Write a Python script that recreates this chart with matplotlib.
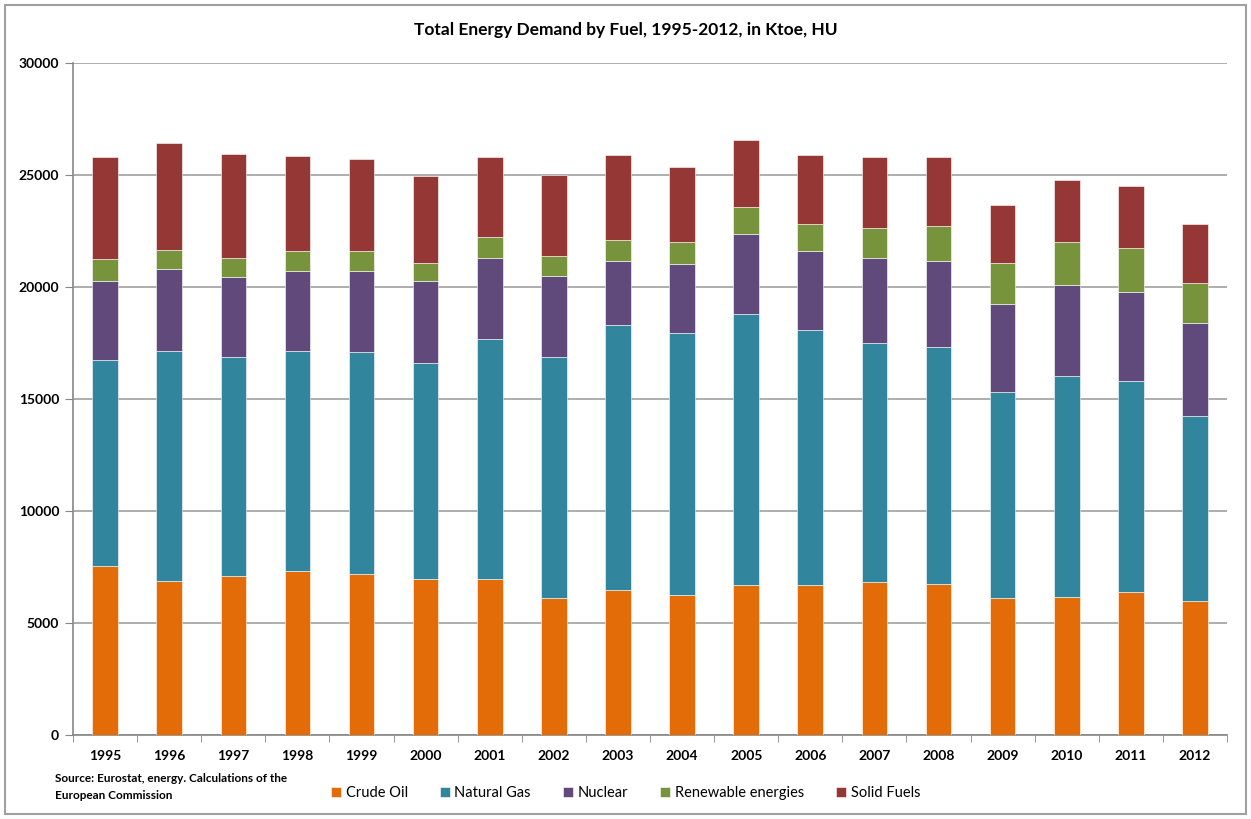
import matplotlib
matplotlib.use("Agg")
import matplotlib.pyplot as plt
import numpy as np
from matplotlib.patches import Rectangle

years = ["1995", "1996", "1997", "1998", "1999", "2000", "2001", "2002", "2003",
         "2004", "2005", "2006", "2007", "2008", "2009", "2010", "2011", "2012"]
crude_oil = [7530, 6880, 7100, 7310, 7180, 6950, 6950, 6100, 6460,
             6250, 6680, 6680, 6820, 6740, 6100, 6180, 6390, 5960]
natural_gas = [9200, 10270, 9760, 9840, 9900, 9640, 10710, 10770, 11840,
               11690, 12120, 11410, 10690, 10560, 9190, 9830, 9410, 8270]
nuclear = [3540, 3640, 3590, 3570, 3650, 3690, 3630, 3630, 2850,
           3070, 3560, 3500, 3780, 3840, 3930, 4070, 3990, 4160]
renewables = [960, 860, 850, 870, 870, 790, 930, 870, 940,
              1000, 1210, 1210, 1350, 1580, 1850, 1930, 1940, 1770]
solid_fuels = [4560, 4780, 4630, 4270, 4110, 3890, 3580, 3630, 3780,
               3350, 2990, 3070, 3150, 3070, 2580, 2780, 2780, 2650]

series = [("Crude Oil", crude_oil, "#E36C09"),
          ("Natural Gas", natural_gas, "#31859C"),
          ("Nuclear", nuclear, "#604A7B"),
          ("Renewable energies", renewables, "#77933C"),
          ("Solid Fuels", solid_fuels, "#953735")]

plt.rcParams['font.family'] = ['Lato', 'DejaVu Sans']

fig = plt.figure(figsize=(12.51, 8.19), dpi=100)
ax = fig.add_axes([0.0584, 0.1026, 0.9224, 0.8205])

x = np.arange(len(years))
bottom = np.zeros(len(years))
for name, vals, col in series:
    ax.bar(x, vals, 0.4, bottom=bottom, color=col, label=name,
           edgecolor="white", linewidth=0.4, zorder=3)
    bottom += np.array(vals)

ax.set_ylim(0, 30000)
ax.set_xlim(-0.5, len(years) - 0.5)
ax.set_yticks(np.arange(0, 30001, 5000))
ax.yaxis.grid(True, color="#a0a0a0", linewidth=1.2, zorder=0)
ax.set_xticks(x)
ax.set_xticklabels(years, fontsize=10, fontweight="bold")
ax.set_xticks(np.arange(-0.5, len(years)), minor=True)
ax.tick_params(axis="x", which="major", length=0, pad=11)
ax.tick_params(axis="x", which="minor", length=5, color="#868686")
ax.tick_params(axis="y", length=6, color="#868686", labelsize=10, pad=4)
for lab in ax.get_yticklabels():
    lab.set_fontweight("bold")
for s in ["top", "right"]:
    ax.spines[s].set_visible(False)
ax.spines["left"].set_color("#868686")
ax.spines["bottom"].set_color("#868686")
ax.spines["left"].set_linewidth(1.2)
ax.spines["bottom"].set_linewidth(1.2)

fig.text(0.5, 0.963, "Total Energy Demand by Fuel, 1995-2012, in Ktoe, HU",
         ha="center", va="center", fontsize=12.5, fontweight="bold")
fig.text(0.044, 0.039, "Source: Eurostat, energy. Calculations of the\nEuropean Commission",
         ha="left", va="center", fontsize=8.5, fontweight="bold", linespacing=1.65)

ax.legend(loc="center", bbox_to_anchor=(0.5, 0.032), bbox_transform=fig.transFigure,
          ncol=5, frameon=False, fontsize=10.5, handlelength=0.7, handleheight=0.7,
          handletextpad=0.3, columnspacing=2.2)

fig.patches.append(Rectangle((0.004, 0.006), 0.992, 0.988, transform=fig.transFigure,
                             fill=False, edgecolor="#a0a0a0", linewidth=1.5))

fig.savefig("out.png", dpi=100)
